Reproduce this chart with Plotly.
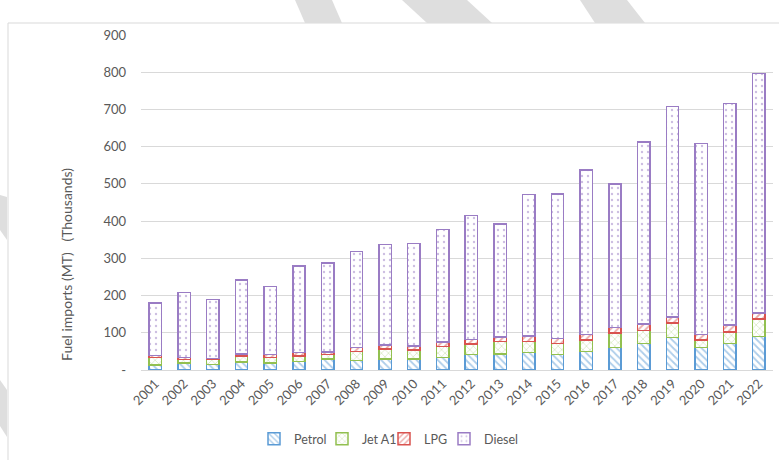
import plotly.graph_objects as go

""" Data (thousand MT) """
years = [str(y) for y in range(2001, 2023)]
petrol = [13, 19, 15, 21, 19, 23, 30, 26, 30, 30, 34, 41, 43, 47, 41, 50, 61, 71, 87, 61, 71, 90]
jet_a1 = [21, 9, 13, 16, 15, 15, 11, 24, 26, 24, 29, 29, 33, 30, 30, 30, 38, 35, 39, 19, 31, 47]
lpg = [5, 6, 3, 6, 7, 9, 7, 10, 11, 11, 12, 12, 13, 14, 13, 15, 15, 17, 17, 15, 19, 16]
diesel = [141, 174, 159, 199, 184, 233, 239, 258, 270, 275, 303, 333, 303, 381, 389, 442, 386, 489, 565, 513, 595, 644]
y_ticks = [0, 100, 200, 300, 400, 500, 600, 700, 800, 900]
y_ticktext = ["-"] + [str(v) for v in y_ticks[1:]]

""" Page geometry in pixels """
W, H = 779, 460
L, R, T, B = 141, 6, 35, 90
PW, PH = W - L - R, H - T - B


def px(x):
    return (x - L) / PW


def py(y):
    return (H - B - y) / PH


# name, values, colour, pattern, solidity, legend text x (px)
series = [
    ("Petrol", petrol, "#5B9BD5", "\\", 0.35, 294),
    ("Jet A1", jet_a1, "#92C050", "x", 0.2, 362),
    ("LPG", lpg, "#D9534F", "/", 0.35, 424),
    ("Diesel", diesel, "#9A7CC4", ".", 0.12, 484),
]

fig = go.Figure()
legends = {}
for i, (name, vals, col, shape, solid, lx) in enumerate(series):
    key = "legend" if i == 0 else f"legend{i + 1}"
    fig.add_trace(go.Bar(
        x=years, y=vals, name=name, legend=key, showlegend=True,
        marker=dict(
            color="white",
            line=dict(color=col, width=1.5),
            pattern=dict(shape=shape, fgcolor=col, bgcolor="white",
                         size=5 if shape != "." else 6, solidity=solid),
        ),
    ))
    # one legend per series so each entry can sit where the reference has it
    legends[key] = dict(orientation="h", x=px(lx - 40), xanchor="left",
                        y=py(439), yanchor="middle", bgcolor="rgba(0,0,0,0)",
                        font=dict(size=12.5, color="#595959"), itemwidth=30)

# light background decoration: chart border and diagonal stripes
shapes = [dict(type="rect", xref="paper", yref="paper",
               x0=px(8), x1=px(790), y0=py(23), y1=py(470),
               line=dict(color="#D9D9D9", width=1), fillcolor="rgba(0,0,0,0)", layer="below")]
stripes = [
    [(295, 0), (332, 0), (342, 23), (305, 23)],
    [(402, 0), (467, 0), (492, 23), (427, 23)],
    [(580, 0), (627, 0), (645, 23), (595, 23)],
    [(0, 195), (7, 197), (7, 240), (0, 230)],
    [(0, 380), (7, 390), (7, 437), (0, 426)],
]
for pts in stripes:
    path = "M " + " L ".join(f"{px(x):.4f},{py(y):.4f}" for x, y in pts) + " Z"
    shapes.append(dict(type="path", xref="paper", yref="paper", path=path,
                       fillcolor="#DEDEDE", line=dict(width=0), layer="below"))

fig.update_layout(
    width=W, height=H, showlegend=True,
    barmode="stack", bargap=0.57,
    margin=dict(l=L, r=R, t=T, b=B),
    paper_bgcolor="white", plot_bgcolor="white",
    font=dict(family="Lato, Noto Sans, sans-serif", size=13, color="#595959"),
    shapes=shapes,
    annotations=[dict(text="Fuel imports (MT)   (Thousands)", xref="paper", yref="paper",
                      x=px(66), y=py(265), xanchor="center", yanchor="middle",
                      textangle=-90, showarrow=False,
                      font=dict(size=14, color="#595959"))],
    **legends,
)
fig.update_yaxes(range=[0, 900], tickvals=y_ticks, ticktext=y_ticktext,
                 showgrid=True, gridcolor="#D9D9D9", gridwidth=1, zeroline=False,
                 ticklabelstandoff=14, tickfont=dict(size=13))
fig.update_xaxes(tickangle=-45, showline=True, linecolor="#D9D9D9", showgrid=False,
                 tickfont=dict(size=13))

# drop the browser's default body margin so the chart sits at the page corner
fig.write_html("out.html", config={"displayModeBar": False},
               post_script="document.body.style.margin='0';")
